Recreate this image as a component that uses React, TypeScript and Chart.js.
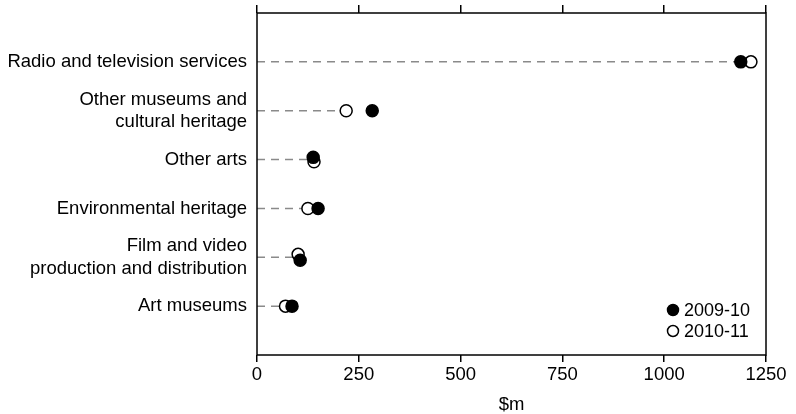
import React, { useEffect, useRef } from "react";
import { Chart, registerables } from "chart.js";

Chart.register(...registerables);

const categories: (string | string[])[] = [
  "Radio and television services",
  ["Other museums and", "cultural heritage"],
  "Other arts",
  "Environmental heritage",
  ["Film and video", "production and distribution"],
  "Art museums",
];
const values0910 = [1188, 283, 138, 150, 106, 86];
const values1011 = [1213, 219, 140, 125, 101, 70];
// small vertical nudges used in the original where markers overlap
const nudge0910 = [0, 0, -0.045, 0, 0.06, 0];
const nudge1011 = [0, 0, 0.045, 0, -0.06, 0];
const xTicks = [0, 250, 500, 750, 1000, 1250];
const seriesNames = ["2009-10", "2010-11"];

const FONT = "'Liberation Sans', Arial, sans-serif";
const FS = 18.5;

export default function App() {
  const ref = useRef<HTMLCanvasElement | null>(null);
  useEffect(() => {
    if (!ref.current) return;
    const dashed = categories.map((_, i) => ({
      type: "line" as const,
      label: "_guide" + i,
      data: [
        { x: 0, y: i + 1 },
        { x: Math.min(values0910[i], values1011[i]), y: i + 1 },
      ],
      borderColor: "#8a8a8a",
      borderWidth: 1.5,
      borderDash: [8, 6],
      pointRadius: 0,
      showLine: true,
      order: 10,
    }));
    const frame = {
      id: "frame",
      afterDraw(chart: any) {
        const { ctx, chartArea: a } = chart;
        ctx.save();
        ctx.strokeStyle = "#000";
        ctx.lineWidth = 1.5;
        ctx.strokeRect(a.left, a.top, a.right - a.left, a.bottom - a.top);
        // legend
        const items = [
          { name: seriesNames[0], fill: "#000" },
          { name: seriesNames[1], fill: "#fff" },
        ];
        ctx.font = `18px ${FONT}`;
        ctx.textBaseline = "middle";
        ctx.textAlign = "left";
        items.forEach((it, k) => {
          const cy = a.bottom - 45 + k * 21;
          const cx = a.right - 93;
          ctx.beginPath();
          ctx.arc(cx, cy, 5.5, 0, Math.PI * 2);
          ctx.fillStyle = it.fill;
          ctx.fill();
          ctx.strokeStyle = "#000";
          ctx.lineWidth = 1.5;
          ctx.stroke();
          ctx.fillStyle = "#000";
          ctx.fillText(it.name, cx + 11, cy + 1);
        });
        ctx.restore();
      },
    };
    const chart = new Chart(ref.current, {
      type: "scatter",
      data: {
        datasets: [
          {
            label: seriesNames[0],
            data: values0910.map((v, i) => ({ x: v, y: i + 1 + nudge0910[i] })),
            backgroundColor: "#000",
            borderColor: "#000",
            borderWidth: 1.5,
            pointRadius: 6,
            order: 1,
          },
          {
            label: seriesNames[1],
            data: values1011.map((v, i) => ({ x: v, y: i + 1 + nudge1011[i] })),
            backgroundColor: "#fff",
            borderColor: "#000",
            borderWidth: 1.5,
            pointRadius: 6,
            order: 2,
          },
          ...dashed,
        ] as any,
      },
      options: {
        animation: false,
        responsive: true,
        maintainAspectRatio: false,
        layout: { padding: { left: 0, right: 30, top: 0, bottom: 0 } },
        plugins: { legend: { display: false }, tooltip: { enabled: false } },
        scales: {
          x: {
            type: "linear",
            position: "bottom",
            min: 0,
            max: 1250,
            afterBuildTicks: (s: any) => {
              s.ticks = xTicks.map((v) => ({ value: v }));
            },
            ticks: {
              color: "#000",
              font: { family: FONT, size: FS },
              padding: 2,
              maxRotation: 0,
              callback: (v: any) => String(v),
            },
            grid: { drawOnChartArea: false, tickLength: 7, color: "#000", lineWidth: 1.5 },
            border: { display: false },
            title: {
              display: true,
              text: "$m",
              color: "#000",
              font: { family: FONT, size: FS, lineHeight: 1 },
              padding: { top: 2, bottom: 0 },
            },
            afterFit: (s: any) => {
              s.height = 59;
            },
          },
          x2: {
            type: "linear",
            position: "top",
            min: 0,
            max: 1250,
            afterBuildTicks: (s: any) => {
              s.ticks = xTicks.map((v) => ({ value: v }));
            },
            ticks: { display: false },
            grid: { drawOnChartArea: false, tickLength: 8, color: "#000", lineWidth: 1.5 },
            border: { display: false },
            afterFit: (s: any) => {
              s.height = 13;
              s.paddingLeft = 0;
              s.paddingRight = 0;
            },
          },
          y: {
            type: "linear",
            min: 0,
            max: 7,
            reverse: true,
            afterBuildTicks: (s: any) => {
              s.ticks = categories.map((_, i) => ({ value: i + 1 }));
            },
            ticks: {
              color: "#000",
              font: { family: FONT, size: FS, lineHeight: 1.22 },
              padding: 10,
              autoSkip: false,
              callback: (v: any) => categories[Number(v) - 1] ?? "",
            },
            grid: { display: false, drawTicks: false },
            border: { display: false },
            afterFit: (s: any) => {
              s.width = 257;
              s.paddingTop = 0;
              s.paddingBottom = 0;
            },
          },
        },
      },
      plugins: [frame],
    });
    return () => chart.destroy();
  }, []);
  return (
    <div style={{ position: "fixed", left: 0, top: 0, width: 796, height: 414, background: "#fff" }}>
      <canvas ref={ref} />
    </div>
  );
}
